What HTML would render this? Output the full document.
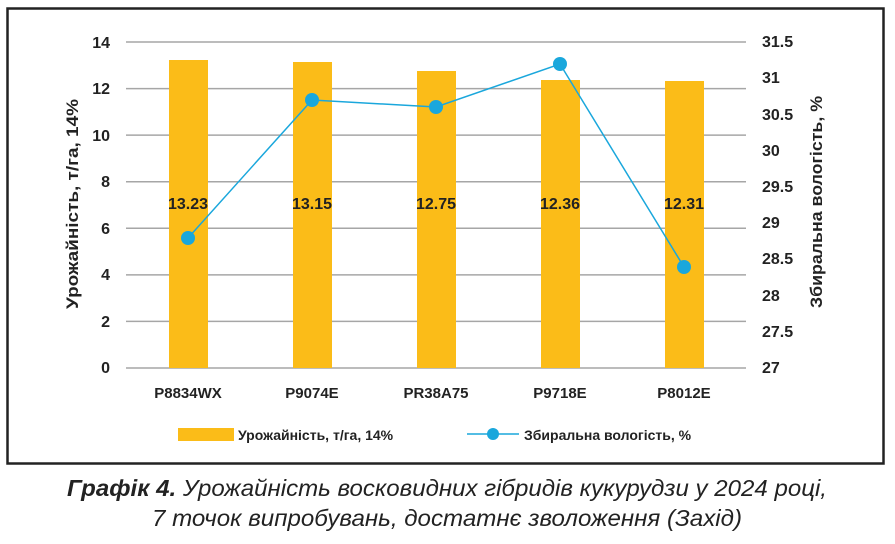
<!DOCTYPE html>
<html><head><meta charset="utf-8"><style>
body{margin:0;background:#fff;width:895px;height:539px;overflow:hidden;font-family:"Liberation Sans",sans-serif}
</style></head><body>
<svg width="895" height="539" xmlns="http://www.w3.org/2000/svg" font-family="Liberation Sans, sans-serif">
<rect x="7.5" y="8.5" width="876" height="455" fill="#fff" stroke="#222" stroke-width="2.5"/>
<g stroke="#a6a6a6" stroke-width="1.5">
<line x1="126" x2="746" y1="42" y2="42"/><line x1="126" x2="746" y1="88.6" y2="88.6"/>
<line x1="126" x2="746" y1="135.1" y2="135.1"/><line x1="126" x2="746" y1="181.7" y2="181.7"/>
<line x1="126" x2="746" y1="228.3" y2="228.3"/><line x1="126" x2="746" y1="274.9" y2="274.9"/>
<line x1="126" x2="746" y1="321.4" y2="321.4"/><line x1="126" x2="746" y1="368" y2="368"/>
</g>
<g fill="#fbbc18">
<rect x="169" y="60" width="39" height="308"/><rect x="293" y="62" width="39" height="306"/>
<rect x="417" y="71" width="39" height="297"/><rect x="541" y="80" width="39" height="288"/>
<rect x="665" y="81" width="39" height="287"/>
</g>
<g font-weight="bold" font-size="16" fill="#222" text-anchor="middle">
<text x="188" y="209">13.23</text><text x="312" y="209">13.15</text><text x="436" y="209">12.75</text><text x="560" y="209">12.36</text><text x="684" y="209">12.31</text>
</g>
<g font-weight="bold" font-size="15" fill="#222" text-anchor="middle">
<text x="188" y="398">P8834WX</text><text x="312" y="398">P9074E</text><text x="436" y="398">PR38A75</text><text x="560" y="398">P9718E</text><text x="684" y="398">P8012E</text>
</g>
<polyline points="188,238 312,100 436,107 560,64 684,267" fill="none" stroke="#1aa7dc" stroke-width="1.5"/>
<g fill="#1aa7dc"><circle cx="188" cy="238" r="7"/><circle cx="312" cy="100" r="7"/><circle cx="436" cy="107" r="7"/><circle cx="560" cy="64" r="7"/><circle cx="684" cy="267" r="7"/></g>
<g font-weight="bold" font-size="16" fill="#222" text-anchor="end">
<text x="110" y="48">14</text><text x="110" y="94">12</text><text x="110" y="141">10</text><text x="110" y="187">8</text><text x="110" y="234">6</text><text x="110" y="280">4</text><text x="110" y="327">2</text><text x="110" y="373">0</text>
</g>
<g font-weight="bold" font-size="16" fill="#222">
<text x="762" y="47">31.5</text><text x="762" y="83">31</text><text x="762" y="120">30.5</text><text x="762" y="156">30</text><text x="762" y="192">29.5</text><text x="762" y="228">29</text><text x="762" y="264">28.5</text><text x="762" y="301">28</text><text x="762" y="337">27.5</text><text x="762" y="373">27</text>
</g>
<text transform="translate(78,204) rotate(-90)" text-anchor="middle" font-weight="bold" font-size="17" fill="#222" textLength="210" lengthAdjust="spacingAndGlyphs">Урожайність, т/га, 14%</text>
<text transform="translate(822,202) rotate(-90)" text-anchor="middle" font-weight="bold" font-size="17" fill="#222" textLength="212" lengthAdjust="spacingAndGlyphs">Збиральна вологість, %</text>
<rect x="178" y="428" width="56" height="13" fill="#fbbc18"/>
<text x="238" y="440" font-weight="bold" font-size="14" fill="#222">Урожайність, т/га, 14%</text>
<line x1="467" x2="519" y1="434" y2="434" stroke="#1aa7dc" stroke-width="1.5"/><circle cx="493" cy="434" r="6" fill="#1aa7dc"/>
<text x="524" y="440" font-weight="bold" font-size="14" fill="#222">Збиральна вологість, %</text>
<g font-style="italic" font-size="23" fill="#222" text-anchor="middle">
<text x="447" y="496" textLength="760" lengthAdjust="spacingAndGlyphs"><tspan font-weight="bold">Графік 4.</tspan> Урожайність восковидних гібридів кукурудзи у 2024 році,</text>
<text x="447" y="526" textLength="590" lengthAdjust="spacingAndGlyphs">7 точок випробувань, достатнє зволоження (Захід)</text>
</g>
</svg>
</body></html>
